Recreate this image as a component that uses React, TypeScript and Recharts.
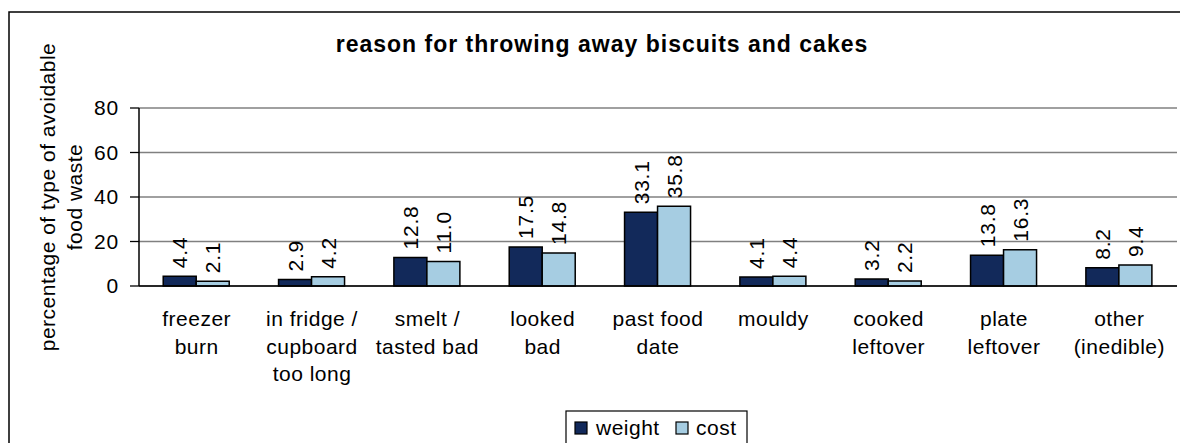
import React from "react";
import {
  BarChart,
  Bar,
  XAxis,
  YAxis,
  CartesianGrid,
  LabelList,
} from "recharts";

const categories = [
  "freezer\nburn",
  "in fridge /\ncupboard\ntoo long",
  "smelt /\ntasted bad",
  "looked\nbad",
  "past food\ndate",
  "mouldy",
  "cooked\nleftover",
  "plate\nleftover",
  "other\n(inedible)",
];
const weight = [4.4, 2.9, 12.8, 17.5, 33.1, 4.1, 3.2, 13.8, 8.2];
const cost = [2.1, 4.2, 11.0, 14.8, 35.8, 4.4, 2.2, 16.3, 9.4];
const yTicks = [0, 20, 40, 60, 80];
const edgeTicks = [0, 1, 2, 3, 4, 5, 6, 7, 8, 9];

const chartData = categories.map((name, i) => ({
  name,
  weight: weight[i],
  cost: cost[i],
}));

const FONT = "'Liberation Sans', Arial, sans-serif";
const NAVY = "#12295A";
const LIGHT = "#A6CDE2";

// multi-line category label under the axis
const CategoryTick = (props: any) => {
  const { x, y, payload } = props;
  const lines = String(payload.value).split("\n");
  return (
    <text
      x={x}
      y={y}
      textAnchor="middle"
      fontFamily={FONT}
      fontSize={21}
      letterSpacing={0.5}
      fill="#000"
    >
      {lines.map((line, i) => (
        <tspan key={i} x={x} dy={i === 0 ? 40 : 27.5}>
          {line}
        </tspan>
      ))}
    </text>
  );
};

const ValueLabel = (props: any) => {
  const { x, y, width, value } = props;
  const cx = Number(x) + Number(width) / 2;
  const top = Number(y) - 8;
  return (
    <text
      transform={`translate(${cx}, ${top}) rotate(-90)`}
      textAnchor="start"
      dominantBaseline="central"
      fontFamily={FONT}
      fontSize={21}
      letterSpacing={0.8}
      fill="#000"
    >
      {Number(value).toFixed(1)}
    </text>
  );
};

export default function App() {
  return (
    <div
      style={{
        position: "absolute",
        left: 0,
        top: 0,
        width: 1180,
        height: 443,
        overflow: "hidden",
        background: "#fff",
        fontFamily: FONT,
      }}
    >
      <BarChart
        width={1180}
        height={443}
        data={chartData}
        margin={{ top: 108, right: 3, left: 79, bottom: 57 }}
        barCategoryGap="21%"
        barGap={0}
      >
        <CartesianGrid
          vertical={false}
          stroke="#808080"
          strokeWidth={1.3}
          yAxisId="left"
          xAxisId="cat"
        />
        <XAxis
          xAxisId="edge"
          type="number"
          domain={[0, 9]}
          ticks={edgeTicks}
          tick={false}
          axisLine={false}
          tickLine={{ stroke: "#000", strokeWidth: 1.3 }}
          tickSize={7}
          height={0}
        />
        <XAxis
          xAxisId="cat"
          dataKey="name"
          interval={0}
          tick={<CategoryTick />}
          tickLine={false}
          tickSize={0}
          tickMargin={0}
          axisLine={{ stroke: "#000", strokeWidth: 1.5 }}
          height={100}
        />
        <YAxis
          yAxisId="left"
          domain={[0, 80]}
          ticks={yTicks}
          width={60}
          tickSize={9}
          tickMargin={11}
          axisLine={{ stroke: "#000", strokeWidth: 1.5 }}
          tickLine={{ stroke: "#000", strokeWidth: 1.3 }}
          tick={{ fontFamily: FONT, fontSize: 21, fill: "#000", letterSpacing: 0.8 }}
        />
        <YAxis
          yAxisId="right"
          orientation="right"
          domain={[0, 80]}
          width={0}
          tick={false}
          tickLine={false}
          axisLine={{ stroke: "#808080", strokeWidth: 1.5 }}
        />
        <Bar
          dataKey="weight"
          xAxisId="cat"
          yAxisId="left"
          fill={NAVY}
          stroke="#000"
          strokeWidth={1.5}
          isAnimationActive={false}
        >
          <LabelList dataKey="weight" content={<ValueLabel />} />
        </Bar>
        <Bar
          dataKey="cost"
          xAxisId="cat"
          yAxisId="left"
          fill={LIGHT}
          stroke="#000"
          strokeWidth={1.5}
          isAnimationActive={false}
        >
          <LabelList dataKey="cost" content={<ValueLabel />} />
        </Bar>
      </BarChart>

      <svg
        width={1180}
        height={443}
        style={{ position: "absolute", left: 0, top: 0, pointerEvents: "none" }}
      >
        <rect x={9} y={12} width={1300} height={600} fill="none" stroke="#000" strokeWidth={1.5} />
        <text
          x={602}
          y={52}
          textAnchor="middle"
          fontFamily={FONT}
          fontSize={23}
          fontWeight="bold"
          letterSpacing={1}
          fill="#000"
        >
          reason for throwing away biscuits and cakes
        </text>
        <text
          transform="translate(55, 197) rotate(-90)"
          textAnchor="middle"
          fontFamily={FONT}
          fontSize={21}
          letterSpacing={0.5}
          fill="#000"
        >
          percentage of type of avoidable
        </text>
        <text
          transform="translate(82, 197) rotate(-90)"
          textAnchor="middle"
          fontFamily={FONT}
          fontSize={21}
          letterSpacing={0.5}
          fill="#000"
        >
          food waste
        </text>
        <rect x={566} y={411} width={181} height={60} fill="#fff" stroke="#000" strokeWidth={1.2} />
        <rect x={575} y={422} width={12} height={12} fill={NAVY} stroke="#000" strokeWidth={1.2} />
        <text x={596} y={435} fontFamily={FONT} fontSize={21} letterSpacing={0.5} fill="#000">
          weight
        </text>
        <rect x={676} y={422} width={12} height={12} fill={LIGHT} stroke="#000" strokeWidth={1.2} />
        <text x={696} y={435} fontFamily={FONT} fontSize={21} letterSpacing={0.5} fill="#000">
          cost
        </text>
      </svg>
    </div>
  );
}
